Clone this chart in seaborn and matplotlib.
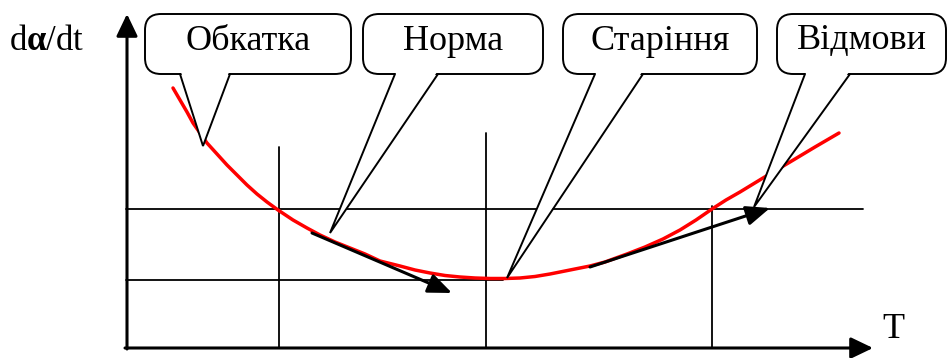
import matplotlib
matplotlib.use("Agg")
import matplotlib.pyplot as plt
import seaborn as sns
import pandas as pd
from matplotlib.patches import FancyBboxPatch, Polygon

# ---- data (pixel-space diagram coordinates) ----
curve_x = [173, 180, 187, 193, 200, 207, 217, 227, 237, 247, 257, 267, 278,
           293, 307, 320, 335, 350, 365, 380, 400, 415, 430, 445, 460, 475,
           490, 505, 520, 535, 550, 560, 575, 590, 605, 627, 645, 663, 680,
           696, 712, 726, 740, 763, 790, 815, 839]
curve_y = [88, 100, 112, 123, 133, 143, 154, 165, 175, 185, 194, 202, 210,
           220, 228, 235, 242, 248, 254, 261, 266, 270, 273, 275.5, 277, 278,
           278.5, 278.5, 278, 276.5, 274, 272, 269, 266, 262, 254, 247, 239,
           230, 220, 209, 200, 192, 178, 162, 147, 133]

stage_labels = ["Обкатка", "Норма", "Старіння", "Відмови"]
box_left = [145, 363, 563, 777]
box_right = [351, 543, 757, 946]
wedge_left = [180, 395, 595, 805]
wedge_right = [230, 438, 643, 850]
tip_x = [203, 330, 507, 754]
tip_y = [146, 233, 278, 207]

vline_x = [279, 486, 712]
vline_top = [147, 133, 206]
hline_y = [209, 280]
hline_end = [863, 503]

tangent_start = [(312, 233), (590, 267)]
tangent_end = [(452, 293), (770, 208)]

y_label = r"d$\mathbf{α}$/dt"
x_label = "T"

# ---- figure ----
sns.set_theme(style="white")
plt.rcParams["font.family"] = ["Liberation Serif", "DejaVu Serif"]
plt.rcParams["mathtext.fontset"] = "custom"
plt.rcParams["mathtext.rm"] = "Liberation Serif"
plt.rcParams["mathtext.it"] = "Liberation Serif:italic"
plt.rcParams["mathtext.bf"] = "Liberation Serif:bold"

fig = plt.figure(figsize=(9.49, 3.58), dpi=100)
ax = fig.add_axes([0, 0, 1, 1])

# grid lines
for x, top in zip(vline_x, vline_top):
    ax.plot([x, x], [top, 348], color="black", lw=1.3, zorder=2)
for y, end in zip(hline_y, hline_end):
    ax.plot([126, end], [y, y], color="black", lw=1.3, zorder=2)

# red curve
df = pd.DataFrame({"x": curve_x, "y": curve_y})
sns.lineplot(data=df, x="x", y="y", sort=False, color="red", lw=2.5,
             ax=ax, zorder=4)
ax.set_xlim(0, 949)
ax.set_ylim(358, 0)
ax.set_xlabel("")
ax.set_ylabel("")
ax.axis("off")

# axes with arrows
axis_style = "-|>,head_length=0.75,head_width=0.36"
ax.annotate("", xy=(127, 14), xytext=(127, 349),
            arrowprops=dict(arrowstyle=axis_style, lw=2.2, color="black",
                            mutation_scale=18, shrinkA=0, shrinkB=0), zorder=3)
ax.annotate("", xy=(873, 348), xytext=(125, 348),
            arrowprops=dict(arrowstyle=axis_style, lw=2.2, color="black",
                            mutation_scale=18, shrinkA=0, shrinkB=0), zorder=3)

# tangent arrows
for s, e in zip(tangent_start, tangent_end):
    ax.annotate("", xy=e, xytext=s,
                arrowprops=dict(arrowstyle="-|>,head_length=0.8,head_width=0.33",
                                lw=2.2, color="black", mutation_scale=18,
                                shrinkA=0, shrinkB=0), zorder=5)

# callouts
top, bottom = 14, 74
for lab, l, r, wl, wr, tx, ty in zip(stage_labels, box_left, box_right,
                                      wedge_left, wedge_right, tip_x, tip_y):
    box = FancyBboxPatch((l, top), r - l, bottom - top,
                         boxstyle="round,pad=0,rounding_size=16",
                         fc="white", ec="black", lw=1.4, zorder=6)
    ax.add_patch(box)
    wedge = Polygon([(wl + 1, bottom - 2), (tx, ty), (wr - 1, bottom - 2)],
                    closed=True, fc="white", ec="none", zorder=7)
    ax.add_patch(wedge)
    ax.plot([wl, tx, wr], [bottom, ty, bottom], color="black", lw=1.4,
            zorder=8, solid_joinstyle="miter")
    ax.text((l + r) / 2, 41, lab, ha="center", va="center", fontsize=26,
            color="black", zorder=9)

ax.text(47, 41, y_label, ha="center", va="center", fontsize=25, color="black")
ax.text(893, 330, x_label, ha="center", va="center", fontsize=26, color="black")

fig.savefig("out.png", dpi=100)
